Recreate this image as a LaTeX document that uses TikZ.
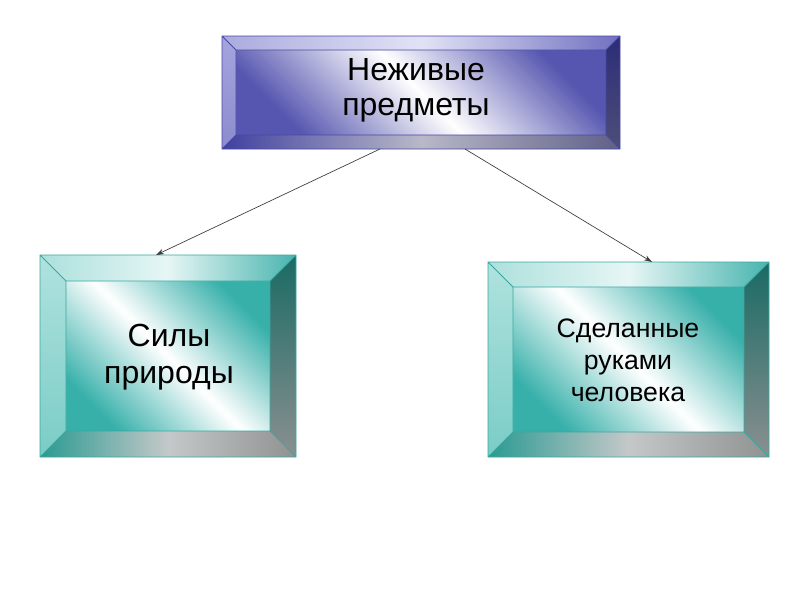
\documentclass[tikz,border=0pt]{standalone}
\usepackage{fontspec}
\setmainfont{Liberation Sans}
\usetikzlibrary{arrows.meta}
% blue box colours
\definecolor{blueface}{RGB}{86,86,176}
\definecolor{bluetopL}{RGB}{170,170,222}
\definecolor{bluetopM}{RGB}{226,226,246}
\definecolor{bluetopR}{RGB}{112,112,192}
\definecolor{blueleftT}{RGB}{164,164,222}
\definecolor{blueleftB}{RGB}{140,140,206}
\definecolor{bluerightT}{RGB}{44,44,120}
\definecolor{bluerightB}{RGB}{78,78,122}
\definecolor{bluebotL}{RGB}{64,64,160}
\definecolor{bluebotM}{RGB}{184,184,200}
\definecolor{bluebotR}{RGB}{96,96,136}
\definecolor{blueline}{RGB}{72,72,168}
% teal box colours
\definecolor{tealface}{RGB}{56,176,170}
\definecolor{tealtopL}{RGB}{172,224,220}
\definecolor{tealtopM}{RGB}{230,246,245}
\definecolor{tealtopR}{RGB}{72,180,174}
\definecolor{tealleftT}{RGB}{176,226,222}
\definecolor{tealleftB}{RGB}{122,204,198}
\definecolor{tealrightT}{RGB}{26,106,100}
\definecolor{tealrightB}{RGB}{138,144,144}
\definecolor{tealbotL}{RGB}{42,154,146}
\definecolor{tealbotM}{RGB}{196,200,200}
\definecolor{tealbotR}{RGB}{144,146,146}
\definecolor{tealline}{RGB}{58,168,160}
\definecolor{connclr}{RGB}{60,60,60}
\tikzset{
  boxline/.style={draw=#1, line width=0.6pt},
  lbl/.style={align=center, inner sep=0pt, text=black},
  conn/.style={draw=connclr, line width=0.5pt, -{Stealth[length=6pt,width=4pt]}},
}
\newcommand{\bevbox}[7]{%
  \coordinate (#6-a) at (#1,#2);
  \coordinate (#6-b) at (#3,#2);
  \coordinate (#6-c) at (#3,#4);
  \coordinate (#6-d) at (#1,#4);
  \coordinate (#6-e) at (#1+#5,#2+#5);
  \coordinate (#6-f) at (#3-#5,#2+#5);
  \coordinate (#6-g) at (#3-#5,#4-#5);
  \coordinate (#6-h) at (#1+#5,#4-#5);
  \shade[top color=#7face, bottom color=#7face, middle color=white, shading angle=-45] (#6-e) rectangle (#6-g);
  \shade[left color=#7topL, right color=#7topR, middle color=#7topM] (#6-a) -- (#6-b) -- (#6-f) -- (#6-e) -- cycle;
  \shade[top color=#7leftT, bottom color=#7leftB] (#6-a) -- (#6-e) -- (#6-h) -- (#6-d) -- cycle;
  \shade[top color=#7rightT, bottom color=#7rightB] (#6-b) -- (#6-c) -- (#6-g) -- (#6-f) -- cycle;
  \shade[left color=#7botL, right color=#7botR, middle color=#7botM] (#6-d) -- (#6-h) -- (#6-g) -- (#6-c) -- cycle;
  \draw[boxline=#7line] (#6-a) rectangle (#6-c) (#6-e) rectangle (#6-g)
    (#6-a) -- (#6-e) (#6-b) -- (#6-f) (#6-c) -- (#6-g) (#6-d) -- (#6-h);
}
\begin{document}
\begin{tikzpicture}[x=0.75pt,y=-0.75pt]
\useasboundingbox (0,0) rectangle (800,600);
\fill[white] (0,0) rectangle (800,600);
\bevbox{222}{36}{620}{149}{14}{top}{blue}
\bevbox{40}{255}{296}{457}{26}{left}{teal}
\bevbox{488}{262}{769}{457}{25}{right}{teal}
\node[lbl, font=\fontsize{24}{26}\selectfont] (ttop) at (416,90) {Неживые\\предметы};
\node[lbl, font=\fontsize{24}{28}\selectfont] (tleft) at (169,357) {Силы\\природы};
\node[lbl, font=\fontsize{20}{24}\selectfont] (tright) at (628,360) {Сделанные\\руками\\человека};
\coordinate (s1) at (380,149);
\coordinate (e1) at (156,255);
\coordinate (s2) at (465,149);
\coordinate (e2) at (652,262);
\draw[conn] (s1) -- (e1);
\draw[conn] (s2) -- (e2);
\end{tikzpicture}
\end{document}
